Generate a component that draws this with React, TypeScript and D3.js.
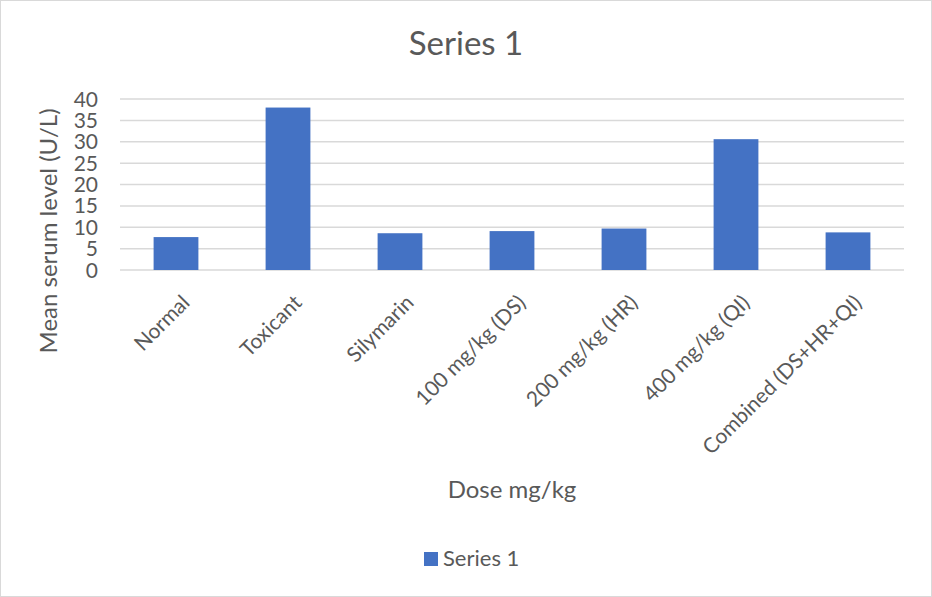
import React, { useRef, useEffect } from 'react'
import * as d3 from 'd3'

const categories = [
    'Normal',
    'Toxicant',
    'Silymarin',
    '100 mg/kg (DS)',
    '200 mg/kg (HR)',
    '400 mg/kg (QI)',
    'Combined (DS+HR+QI)',
]
const series1 = [7.7, 38, 8.6, 9.1, 9.7, 30.6, 8.8]
const yTicks = [0, 5, 10, 15, 20, 25, 30, 35, 40]

const App = () => {
    const svgRef = useRef<SVGSVGElement>(null)

    useEffect(() => {
        const svg = d3.select(svgRef.current)
        const width = 932
        const height = 597
        const margin = { top: 99, right: 28, bottom: 327, left: 120 }
        const font = 'Lato, "Open Sans", sans-serif'
        const textColor = '#595959'

        svg.selectAll('*').remove()

        // chart border
        svg.append('rect')
            .attr('x', 0.5)
            .attr('y', 0.5)
            .attr('width', width - 1)
            .attr('height', height - 1)
            .attr('fill', '#fff')
            .attr('stroke', '#d9d9d9')

        const xScale = d3
            .scaleBand()
            .domain(categories)
            .range([margin.left, width - margin.right])
            .paddingInner(0.6)
            .paddingOuter(0.3)

        const yScale = d3
            .scaleLinear()
            .domain([0, 40])
            .range([height - margin.bottom, margin.top])

        // gridlines
        svg.append('g')
            .selectAll('line')
            .data(yTicks)
            .enter()
            .append('line')
            .attr('x1', margin.left)
            .attr('x2', width - margin.right)
            .attr('y1', (d) => yScale(d))
            .attr('y2', (d) => yScale(d))
            .attr('stroke', '#d9d9d9')
            .attr('stroke-width', 1.5)

        // y tick labels
        svg.append('g')
            .selectAll('text')
            .data(yTicks)
            .enter()
            .append('text')
            .attr('x', margin.left - 22)
            .attr('y', (d) => yScale(d))
            .attr('dy', '0.36em')
            .attr('text-anchor', 'end')
            .style('font-family', font)
            .style('font-size', '21px')
            .attr('fill', textColor)
            .text((d) => d)

        // bars
        svg.append('g')
            .selectAll('rect')
            .data(series1)
            .enter()
            .append('rect')
            .attr('x', (d, i) => xScale(categories[i]))
            .attr('y', (d) => yScale(d))
            .attr('width', xScale.bandwidth())
            .attr('height', (d) => yScale(0) - yScale(d))
            .attr('fill', '#4472c4')

        // x labels
        svg.append('g')
            .selectAll('text')
            .data(categories)
            .enter()
            .append('text')
            .attr('transform', (d) => {
                const cx = xScale(d) + xScale.bandwidth() / 2 + 15
                return `translate(${cx}, 304) rotate(-45)`
            })
            .attr('text-anchor', 'end')
            .style('font-family', font)
            .style('font-size', '21px')
            .attr('fill', textColor)
            .text((d) => d)

        // title
        svg.append('text')
            .attr('x', 466)
            .attr('y', 55)
            .attr('text-anchor', 'middle')
            .style('font-family', font)
            .style('font-size', '33px')
            .attr('fill', textColor)
            .text('Series 1')

        // x-axis title
        svg.append('text')
            .attr('x', 512)
            .attr('y', 498)
            .attr('text-anchor', 'middle')
            .style('font-family', font)
            .style('font-size', '24px')
            .attr('fill', textColor)
            .text('Dose mg/kg')

        // y-axis title
        svg.append('text')
            .attr('transform', 'translate(57, 231) rotate(-90)')
            .attr('text-anchor', 'middle')
            .style('font-family', font)
            .style('font-size', '24px')
            .attr('fill', textColor)
            .text('Mean serum level (U/L)')

        // legend
        svg.append('rect')
            .attr('x', 424)
            .attr('y', 552)
            .attr('width', 14)
            .attr('height', 14)
            .attr('fill', '#4472c4')
        svg.append('text')
            .attr('x', 443)
            .attr('y', 566)
            .style('font-family', font)
            .style('font-size', '22px')
            .attr('fill', textColor)
            .text('Series 1')
    }, [])

    return (
        <svg
            ref={svgRef}
            width={932}
            height={597}
            style={{ position: 'absolute', left: 0, top: 0 }}
        />
    )
}

export default App
